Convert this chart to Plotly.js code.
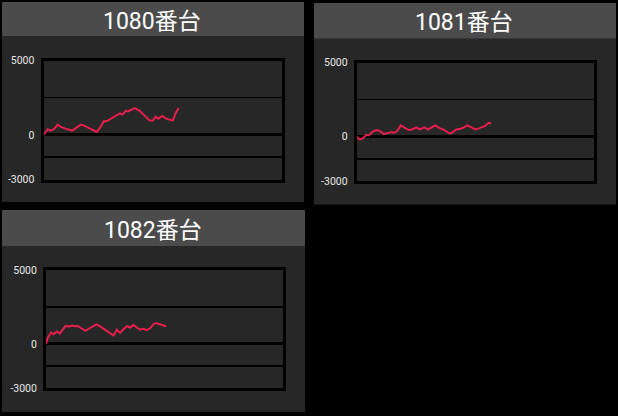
<!DOCTYPE html>
<html>
<head>
<meta charset="utf-8">
<script src="https://cdn.plot.ly/plotly-3.0.1.min.js"></script>
<style>
  html, body { margin: 0; padding: 0; background: #000; }
  #chart { width: 618px; height: 416px; }
</style>
</head>
<body>
<div id="chart"></div>
<script>
var machines = ['1080番台', '1081番台', '1082番台'];

// x = progress through the day (0-100), y = coin difference
var x1080 = [0, 1.8, 2.9, 4.3, 6, 7.1, 9.2, 12, 13.3, 15.7, 16.8, 18.9, 21.7, 22.4, 23.8, 25.4, 26.5, 28.6, 30.4, 32.1,
  33.2, 34.6, 35.5, 37, 38.3, 40.4, 42.5, 44.6, 46, 47.1, 48.2, 49.9, 51.5, 53.6, 54.3, 55.7, 56.8];
var y1080 = [0, 380, 290, 380, 690, 560, 420, 290, 420, 690, 640, 470, 240, 200, 490, 930, 910, 1090, 1270, 1440,
  1360, 1620, 1580, 1710, 1800, 1620, 1310, 960, 960, 1220, 1090, 1270, 1090, 1000, 960, 1530, 1800];

var x1081 = [0, 1.3, 2.7, 4.1, 5.1, 6.9, 8.3, 9.7, 11.5, 13.2, 14.6, 16, 17.2, 18.6, 20.3, 21.9, 23.3, 25.2, 26.6, 28.7,
  30.1, 31.8, 33.2, 35, 37.1, 39.2, 40.2, 42.1, 43.9, 45.3, 46.7, 48.4, 50.1, 51.9, 54, 55.7, 56.8];
var y1081 = [0, -180, -90, 130, 90, 360, 450, 400, 180, 270, 310, 270, 400, 760, 580, 450, 490, 630, 490, 630,
  490, 630, 760, 580, 450, 220, 270, 490, 540, 630, 760, 630, 490, 580, 710, 940, 890];

var x1082 = [0, 0.8, 2.2, 3.2, 4.6, 5.8, 6.9, 8.3, 9.7, 11.1, 12.1, 13.5, 14.9, 16.8, 18.4, 19.8, 21.2, 22.7, 24.8, 26.9,
  28.6, 30, 31.3, 32.8, 34.2, 35.6, 37, 38.4, 39.8, 41.2, 42.6, 44, 45.4, 46.5, 48.2, 50.8];
var y1082 = [0, 430, 770, 660, 840, 700, 930, 1220, 1180, 1240, 1200, 1220, 1060, 880, 1060, 1220, 1330, 1200, 990, 770,
  560, 970, 750, 990, 1200, 1110, 1290, 1110, 970, 1020, 930, 1060, 1330, 1420, 1330, 1200];

var yTickVals = [-3000, -1500, 0, 2500, 5000];
var yTickText = ['-3000', '', '0', '', '5000'];

var W = 618, H = 416;
function fx(p) { return p / W; }
function fy(p) { return 1 - p / H; }

// panel boxes in page pixels
var panels = [
  { box: [2, 2, 304, 202], bar: 36, plot: [43.5, 60.5, 281.5, 179.5] },
  { box: [314, 3, 616, 204.5], bar: 38.5, plot: [356.7, 62.5, 593.5, 181.3] },
  { box: [2, 210, 305, 412], bar: 246, plot: [46, 270.3, 282.5, 388] }
];

var xs = [x1080, x1081, x1082];
var ys = [y1080, y1081, y1082];

var data = [];
var shapes = [];
var annotations = [];
var layout = {
  width: W,
  height: H,
  margin: { l: 0, r: 0, t: 0, b: 0 },
  paper_bgcolor: '#000',
  plot_bgcolor: '#252525',
  showlegend: false,
  font: { family: 'Roboto, "Noto Sans CJK JP", sans-serif', color: '#e6e6e6' }
};

panels.forEach(function (p, i) {
  var n = i === 0 ? '' : String(i + 1);

  data.push({
    type: 'scatter',
    mode: 'lines',
    x: xs[i],
    y: ys[i],
    xaxis: 'x' + n,
    yaxis: 'y' + n,
    line: { color: '#e91e4c', width: 2 },
    hoverinfo: 'skip'
  });

  layout['xaxis' + n] = {
    domain: [fx(p.plot[0]), fx(p.plot[2])],
    anchor: 'y' + n,
    range: [0, 100],
    showgrid: false,
    zeroline: false,
    showticklabels: false,
    ticks: '',
    showline: true,
    mirror: true,
    linecolor: '#000',
    linewidth: 3,
    fixedrange: true
  };
  layout['yaxis' + n] = {
    domain: [fy(p.plot[3]), fy(p.plot[1])],
    anchor: 'x' + n,
    range: [-3000, 5000],
    tickmode: 'array',
    tickvals: yTickVals,
    ticktext: yTickText,
    ticks: '',
    ticklabelstandoff: 4,
    tickfont: { size: 10.5, color: '#e6e6e6' },
    showgrid: true,
    gridcolor: '#000',
    gridwidth: 1.5,
    zeroline: true,
    zerolinecolor: '#000',
    zerolinewidth: 3,
    showline: true,
    mirror: true,
    linecolor: '#000',
    linewidth: 3,
    fixedrange: true
  };

  shapes.push({
    type: 'rect', xref: 'paper', yref: 'paper', layer: 'below',
    x0: fx(p.box[0]), x1: fx(p.box[2]), y0: fy(p.box[3]), y1: fy(p.box[1]),
    fillcolor: '#272727', line: { width: 0 }
  });
  shapes.push({
    type: 'rect', xref: 'paper', yref: 'paper', layer: 'below',
    x0: fx(p.box[0]), x1: fx(p.box[2]), y0: fy(p.bar), y1: fy(p.box[1]),
    fillcolor: '#4b4b4b', line: { width: 0 }
  });

  annotations.push({
    xref: 'paper', yref: 'paper',
    x: fx((p.box[0] + p.box[2]) / 2 - 1),
    y: fy((p.box[1] + p.bar) / 2 + 2),
    xanchor: 'center', yanchor: 'middle',
    showarrow: false,
    text: machines[i],
    font: { size: 23, color: '#ffffff' }
  });
});

layout.shapes = shapes;
layout.annotations = annotations;

Plotly.newPlot('chart', data, layout, { displayModeBar: false, staticPlot: true });
</script>
</body>
</html>
